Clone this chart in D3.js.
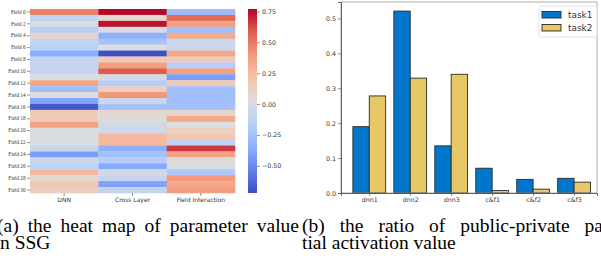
<!DOCTYPE html>
<html>
<head>
<meta charset="utf-8">
<script src="https://cdn.jsdelivr.net/npm/d3@7"></script>
<style>
  body { margin: 0; background: #fff; }
  svg { display: block; }
</style>
</head>
<body>
<svg id="fig" width="601" height="278"></svg>
<script>
// ---- heat map data (a) ----
const heatCols = ["DNN", "Cross Layer", "Field Interaction"];
const fieldNames = ["Field 0","Field 1","Field 2","Field 3","Field 4","Field 5","Field 6","Field 7",
    "Field 8","Field 9","Field 10","Field 11","Field 12","Field 13","Field 14","Field 15",
    "Field 16","Field 17","Field 18","Field 19","Field 20","Field 21","Field 22","Field 23",
    "Field 24","Field 25","Field 26","Field 27","Field 28","Field 29","Field 30"];
const dnnVals = [0.48, -0.12, 0.01, -0.17, 0.10, -0.10, -0.15, -0.36,
    -0.10, -0.10, -0.10, 0.02, 0.35, -0.26, 0.02, -0.40,
    -0.67, 0.17, 0.16, 0.37, 0.02, 0.01, 0.00, -0.07,
    -0.42, -0.07, -0.13, 0.27, 0.07, 0.18, 0.14];
const crossVals = [0.76, 0.07, 0.74, 0.00, -0.35, -0.24, 0.02, -0.70,
    0.17, 0.38, 0.59, -0.02, -0.17, 0.14, 0.41, -0.07,
    -0.25, 0.07, 0.05, -0.03, -0.05, 0.27, 0.27, -0.35,
    -0.25, -0.18, -0.37, -0.03, -0.10, -0.41, -0.10];
const fiVals = [-0.27, 0.55, 0.37, -0.26, 0.32, -0.07, -0.07, 0.34,
    0.17, -0.17, 0.36, -0.42, 0.17, -0.26, -0.26, -0.26,
    -0.25, 0.09, 0.34, 0.02, 0.13, 0.19, -0.12, 0.66,
    0.36, 0.05, -0.01, -0.20, 0.40, 0.34, 0.38];
const heatRange = [-0.72, 0.77];
const cbarTicks = [-0.5, -0.25, 0, 0.25, 0.5, 0.75];

// ---- bar chart data (b) ----
const barCats = ["dnn1", "dnn2", "dnn3", "c&f1", "c&f2", "c&f3"];
const task1 = [0.190, 0.521, 0.135, 0.071, 0.039, 0.042];
const task2 = [0.278, 0.329, 0.340, 0.007, 0.011, 0.031];
const barTicks = [0, 0.1, 0.2, 0.3, 0.4, 0.5];
const seriesNames = ["task1", "task2"];

// matplotlib coolwarm anchors
const coolwarm = ["#3b4cc0", "#6282ea", "#8db0fe", "#b8d0f9", "#dddddd",
                  "#f5c4ac", "#f49a7b", "#de604d", "#b40426"];

const svg = d3.select("#fig");
const sans = "DejaVu Sans, sans-serif";
const serif = "Liberation Serif, Times New Roman, serif";

// ================= (a) heat map =================
const hm = { left: 30, right: 235, top: 9, bottom: 193 };
const interp = d3.piecewise(d3.interpolateRgb, coolwarm);
const color = d3.scaleSequential(interp).domain(heatRange);

const xH = d3.scaleBand().domain(heatCols).range([hm.left, hm.right]);
const yH = d3.scaleBand().domain(fieldNames).range([hm.top, hm.bottom]);

const cells = [];
fieldNames.forEach((f, i) => {
    cells.push({ col: "DNN", row: f, v: dnnVals[i] });
    cells.push({ col: "Cross Layer", row: f, v: crossVals[i] });
    cells.push({ col: "Field Interaction", row: f, v: fiVals[i] });
});

svg.append("g").selectAll("rect")
    .data(cells)
    .enter().append("rect")
    .attr("x", d => xH(d.col))
    .attr("y", d => yH(d.row))
    .attr("width", xH.bandwidth() + 0.3)
    .attr("height", yH.bandwidth() + 0.3)
    .attr("fill", d => color(d.v));

const yAxisH = svg.append("g")
    .attr("transform", `translate(${hm.left},0)`)
    .call(d3.axisLeft(yH).tickValues(fieldNames.filter((d, i) => i % 2 === 0)).tickSize(3).tickPadding(1.5));
yAxisH.select(".domain").remove();
yAxisH.selectAll("text").attr("font-family", serif).attr("font-size", 5.2).attr("fill", "#333");
yAxisH.selectAll("line").attr("stroke", "#444").attr("stroke-width", 0.6);

const xAxisH = svg.append("g")
    .attr("transform", `translate(0,${hm.bottom})`)
    .call(d3.axisBottom(xH).tickSize(3).tickPadding(2));
xAxisH.select(".domain").remove();
xAxisH.selectAll("text").attr("font-family", sans).attr("font-size", 6).attr("fill", "#333");
xAxisH.selectAll("line").attr("stroke", "#444").attr("stroke-width", 0.6);

// colorbar
const cb = { x: 248, w: 9 };
const yC = d3.scaleLinear().domain(heatRange).range([hm.bottom, hm.top]);
const grad = svg.append("defs").append("linearGradient")
    .attr("id", "cbgrad").attr("x1", 0).attr("y1", 1).attr("x2", 0).attr("y2", 0);
d3.range(0, 1.0001, 0.05).forEach(t => {
    grad.append("stop").attr("offset", t).attr("stop-color", interp(t));
});
svg.append("rect")
    .attr("x", cb.x).attr("y", hm.top)
    .attr("width", cb.w).attr("height", hm.bottom - hm.top)
    .attr("fill", "url(#cbgrad)");
const cAxis = svg.append("g")
    .attr("transform", `translate(${cb.x + cb.w},0)`)
    .call(d3.axisRight(yC).tickValues(cbarTicks).tickSize(3).tickPadding(2)
        .tickFormat(d => d3.format(".2f")(d).replace("-", "\u2212")));
cAxis.select(".domain").remove();
cAxis.selectAll("text").attr("font-family", sans).attr("font-size", 6.3).attr("fill", "#333");
cAxis.selectAll("line").attr("stroke", "#444").attr("stroke-width", 0.6);

// ================= (b) bar chart =================
const bc = { left: 341, right: 597, top: 2, bottom: 193 };
const xB = d3.scaleLinear().domain([-0.69, 5.56]).range([bc.left, bc.right]);
const yB = d3.scaleLinear().domain([0, 0.547]).range([bc.bottom, bc.top]);
const barW = 0.4;
const barColors = ["#0077cc", "#e8c766"];

[task1, task2].forEach((vals, s) => {
    svg.append("g").selectAll("rect")
        .data(vals)
        .enter().append("rect")
        .attr("x", (d, i) => xB(i - barW + s * barW))
        .attr("y", d => yB(d))
        .attr("width", xB(barW) - xB(0))
        .attr("height", d => yB(0) - yB(d))
        .attr("fill", barColors[s])
        .attr("stroke", "#2a2a2a")
        .attr("stroke-width", 0.9);
});

// frame
svg.append("rect")
    .attr("x", bc.left).attr("y", bc.top)
    .attr("width", bc.right - bc.left).attr("height", bc.bottom - bc.top)
    .attr("fill", "none").attr("stroke", "#999").attr("stroke-width", 0.8);

const yAxisB = svg.append("g")
    .attr("transform", `translate(${bc.left},0)`)
    .call(d3.axisLeft(yB).tickValues(barTicks).tickFormat(d3.format(".1f")).tickSize(3).tickPadding(2));
yAxisB.select(".domain").attr("stroke", "#444").attr("stroke-width", 0.8);
yAxisB.selectAll("text").attr("font-family", sans).attr("font-size", 6.3).attr("fill", "#333");
yAxisB.selectAll("line").attr("stroke", "#444").attr("stroke-width", 0.6);

const xAxisB = svg.append("g")
    .attr("transform", `translate(0,${bc.bottom})`)
    .call(d3.axisBottom(xB).tickValues(d3.range(barCats.length))
        .tickFormat(i => barCats[i]).tickSize(3).tickPadding(2));
xAxisB.select(".domain").attr("stroke", "#444").attr("stroke-width", 0.8);
xAxisB.selectAll("text").attr("font-family", sans).attr("font-size", 6.3).attr("fill", "#333");
xAxisB.selectAll("line").attr("stroke", "#444").attr("stroke-width", 0.6);

// legend
const lg = svg.append("g").attr("transform", "translate(539,6)");
lg.append("rect").attr("width", 58).attr("height", 31).attr("rx", 2)
    .attr("fill", "#fff").attr("stroke", "#ddd").attr("stroke-width", 0.8);
seriesNames.forEach((name, s) => {
    lg.append("rect").attr("x", 3).attr("y", 5.5 + s * 13).attr("width", 19).attr("height", 6.5)
        .attr("fill", barColors[s]).attr("stroke", "#2a2a2a").attr("stroke-width", 0.9);
    lg.append("text").attr("x", 29).attr("y", 12 + s * 13)
        .attr("font-family", sans).attr("font-size", 8.9).attr("fill", "#333")
        .text(name);
});

// ================= captions =================
const capSize = 19.5;
function justifiedLine(words, x0, x1, y) {
    const g = svg.append("g");
    const nodes = words.map(w => g.append("text")
        .attr("y", y).attr("font-family", serif).attr("font-size", capSize)
        .attr("fill", "#000").text(w));
    const widths = nodes.map(n => n.node().getComputedTextLength());
    const gap = (x1 - x0 - d3.sum(widths)) / (words.length - 1);
    let x = x0;
    nodes.forEach((n, i) => { n.attr("x", x); x += widths[i] + gap; });
}
function plainLine(str, x, y) {
    svg.append("text").attr("x", x).attr("y", y)
        .attr("font-family", serif).attr("font-size", capSize).attr("fill", "#000")
        .text(str);
}
justifiedLine(["(a)", "the", "heat", "map", "of", "parameter", "value"], -3, 299, 232);
plainLine("n SSG", 0, 249);
justifiedLine(["(b)", "the", "ratio", "of", "public-private", "pa"], 302, 603, 232);
plainLine("tial activation value", 302, 249);
</script>
</body>
</html>
